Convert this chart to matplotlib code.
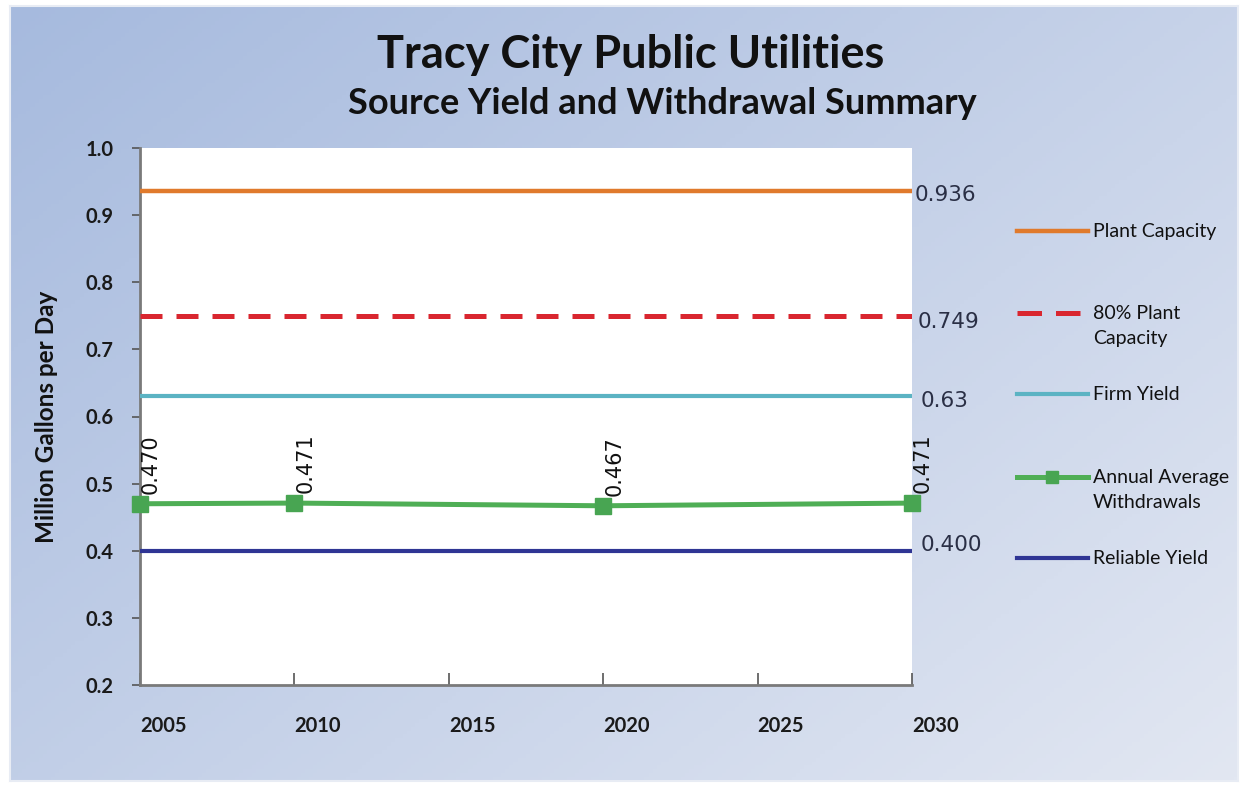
import matplotlib.pyplot as plt
from matplotlib.lines import Line2D
import numpy as np

# data
years = [2005, 2010, 2020, 2030]
withdrawals = [0.470, 0.471, 0.467, 0.471]
withdrawal_labels = ["0.470", "0.471", "0.467", "0.471"]

span = [2005, 2030]
plant_capacity = 0.936
plant_80 = 0.749
firm_yield = 0.63
reliable_yield = 0.400
level_labels = ["0.936", "0.749", "0.63", "0.400"]

series_names = ["Plant Capacity", "80% Plant\nCapacity", "Firm Yield",
                "Annual Average\nWithdrawals", "Reliable Yield"]

c_plant = "#e07a2c"
c_80 = "#d9262f"
c_firm = "#5bb3c3"
c_avg = "#4fae55"
c_rel = "#2f3594"

TITLE_FONT = "Lato"

fig = plt.figure(figsize=(12.44, 7.87), dpi=100, facecolor="white")

# gradient background panel
bg = fig.add_axes([10/1244, 6/787, 1228/1244, 775/787])
ny, nx = 200, 300
xx, yy = np.meshgrid(np.linspace(0, 1, nx), np.linspace(0, 1, ny))
t = np.clip(0.55*xx + 0.45*yy, 0, 1)
c0 = np.array([166, 186, 222]) / 255.0
c1 = np.array([226, 231, 242]) / 255.0
img = c0[None, None, :]*(1-t[..., None]) + c1[None, None, :]*t[..., None]
bg.imshow(img, aspect="auto", extent=[0, 1, 0, 1], origin="upper")
bg.set_xlim(0, 1)
bg.set_ylim(0, 1)
for s in bg.spines.values():
    s.set_color("#e8ecf4")
    s.set_linewidth(1.5)
bg.set_xticks([])
bg.set_yticks([])

ax = fig.add_axes([140/1244, 102/787, 772/1244, 537/787])
ax.set_facecolor("white")

ax.plot(span, [plant_capacity]*2, color=c_plant, lw=3.2, solid_capstyle="butt", zorder=3)
ax.plot(span, [plant_80]*2, color=c_80, lw=3.6, linestyle=(0, (4.4, 2.8)), zorder=3)
ax.plot(span, [firm_yield]*2, color=c_firm, lw=3.0, solid_capstyle="butt", zorder=3)
ax.plot(years, withdrawals, color=c_avg, lw=3.6, marker="s", markersize=11,
        markerfacecolor="#48a552", markeredgecolor="#48a552", zorder=4, clip_on=False)
ax.plot(span, [reliable_yield]*2, color=c_rel, lw=3.0, solid_capstyle="butt", zorder=3)

for x, y, lab in zip(years, withdrawals, withdrawal_labels):
    ax.annotate(lab, (x, y), xytext=(8, 7), textcoords="offset points",
                rotation=90, ha="center", va="bottom", fontsize=15,
                family="DejaVu Sans", color="#111111")

levels = [plant_capacity, plant_80, firm_yield, reliable_yield]
offs = [(2, -3), (4, -4), (6, -3), (6, 4)]
for y, lab, o in zip(levels, level_labels, offs):
    ax.annotate(lab, (span[1], y), xytext=o, textcoords="offset points",
                ha="left", va="center", fontsize=15.5, family="DejaVu Sans",
                color="#2a2f45", annotation_clip=False)

ax.set_xlim(2005, 2030)
ax.set_ylim(0.2, 1.0)
ax.set_xticks(range(2005, 2031, 5))
ax.set_yticks(np.arange(0.2, 1.01, 0.1))
ax.set_yticklabels([f"{v:.1f}" for v in np.arange(0.2, 1.01, 0.1)])

for s in ["top", "right"]:
    ax.spines[s].set_visible(False)
for s in ["left", "bottom"]:
    ax.spines[s].set_color("#7a7a7a")
    ax.spines[s].set_linewidth(2)

ax.tick_params(axis="y", direction="out", length=6, width=1.2, color="#555555",
               labelsize=14.5, pad=13)
ax.tick_params(axis="x", direction="in", length=9, width=1.2, color="#555555",
               labelsize=14.5, pad=22)
for lab in ax.get_yticklabels() + ax.get_xticklabels():
    lab.set_family(TITLE_FONT)
    lab.set_fontweight("bold")
    lab.set_color("#1a1a1a")
for lab in ax.get_xticklabels():
    lab.set_ha("left")

ax.set_ylabel("Million Gallons per Day", fontsize=17.5, fontweight="bold",
              family=TITLE_FONT, labelpad=20, color="#111111")

fig.text(631/1244, 1 - 55/787, "Tracy City Public Utilities", ha="center", va="center",
         fontsize=32.5, fontweight="bold", family=TITLE_FONT, color="#111111")
fig.text(662/1244, 1 - 103/787, "Source Yield and Withdrawal Summary", ha="center",
         va="center", fontsize=26, fontweight="bold", family=TITLE_FONT, color="#111111")

# legend, drawn by hand to match the uneven spacing
leg_y = [231, 313, 394, 477, 558]
leg_styles = [
    dict(color=c_plant, lw=3.2),
    dict(color=c_80, lw=3.6, linestyle=(0, (4.9, 2.8))),
    dict(color=c_firm, lw=3.0),
    dict(color=c_avg, lw=3.6, marker="s", markersize=8, markevery=[1],
         markerfacecolor="#48a552", markeredgecolor="#48a552"),
    dict(color=c_rel, lw=3.0),
]
for yp, name, st in zip(leg_y, series_names, leg_styles):
    yf = 1 - yp/787
    fig.add_artist(Line2D([1017/1244, 1052/1244, 1088/1244], [yf, yf, yf],
                          transform=fig.transFigure, **st))
    fig.text(1093/1244, yf + 8/787, name, ha="left", va="top", fontsize=14,
             family=TITLE_FONT, color="#111111", linespacing=1.55)

fig.savefig("out.png", dpi=100, facecolor="white")
